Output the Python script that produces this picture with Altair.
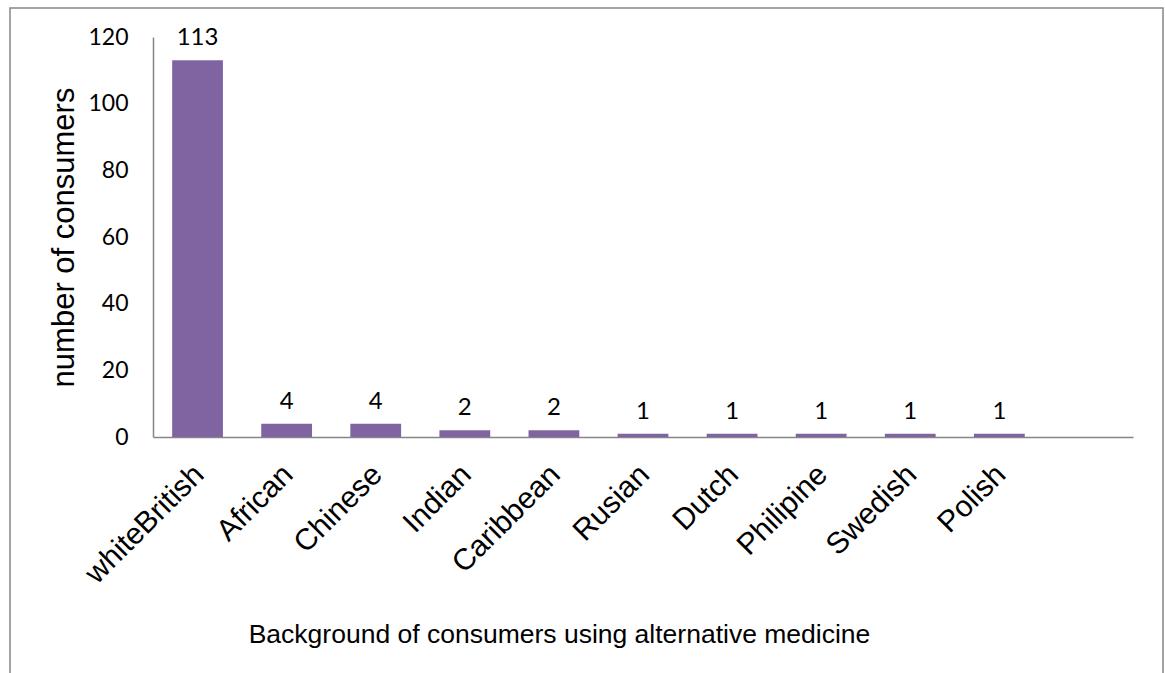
import altair as alt
import pandas as pd

categories = ["whiteBritish", "African", "Chinese", "Indian", "Caribbean",
              "Rusian", "Dutch", "Philipine", "Swedish", "Polish"]
consumers = [113, 4, 4, 2, 2, 1, 1, 1, 1, 1]
slots = categories + [""]          # Excel chart keeps an empty 11th slot
y_ticks = [0, 20, 40, 60, 80, 100, 120]

df = pd.DataFrame({"background": categories, "consumers": consumers})

AXIS_GRAY = "#868686"
BAR = "#8064A2"

x_enc = alt.X(
    "background:N",
    sort=slots,
    scale=alt.Scale(domain=slots, paddingInner=0.43, paddingOuter=0.215),
    axis=alt.Axis(
        title="Background of consumers using alternative medicine",
        labelAngle=315, labelAlign="right", labelBaseline="top",
        labelPadding=22, labelOffset=-9, labelOverlap=False, labelLimit=400,
        labelFont="Liberation Sans", labelFontSize=30, labelColor="black",
        ticks=False, domainColor=AXIS_GRAY, domainWidth=1.5,
        titleFont="Liberation Sans", titleFontSize=26.5, titleFontWeight="normal",
        titleColor="black", titleX=406, titleY=205, titleAlign="center",
        titleBaseline="alphabetic",
    ),
)
y_enc = alt.Y(
    "consumers:Q",
    scale=alt.Scale(domain=[0, 120], nice=False),
    axis=alt.Axis(
        values=y_ticks, grid=False, ticks=False,
        title="number of consumers",
        labelPadding=25, labelFont="Lato", labelFontSize=23, labelColor="black",
        domainColor=AXIS_GRAY, domainWidth=1.5,
        titleFont="Liberation Sans", titleFontSize=31, titleFontWeight="normal",
        titleColor="black", titleAngle=270, titleX=-80, titleY=200,
        titleAlign="center", titleBaseline="alphabetic",
    ),
)

bars = alt.Chart(df).mark_bar(color=BAR).encode(x=x_enc, y=y_enc)
labels = alt.Chart(df).mark_text(
    dy=-15, baseline="alphabetic", font="Lato", fontSize=24, color="black"
).encode(x=x_enc, y=y_enc, text="consumers:Q")

frame = alt.Chart(pd.DataFrame({"f": [0]})).mark_rect(
    fill="transparent", stroke=AXIS_GRAY, strokeWidth=1.5
).encode(
    x=alt.value(-143), x2=alt.value(1010), y=alt.value(-29), y2=alt.value(650)
)

chart = alt.layer(frame, bars, labels).properties(
    width=980, height=400,
    padding={"left": 9, "top": 7, "right": 0, "bottom": 0},
    background="white",
).configure_view(stroke=None)

chart.save("out.html", embed_options={"renderer": "svg", "actions": False})
